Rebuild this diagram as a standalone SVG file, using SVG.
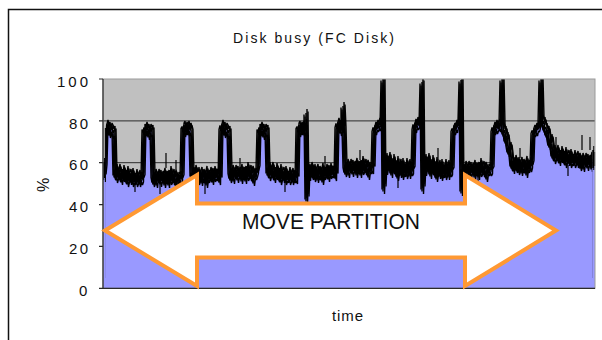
<svg xmlns="http://www.w3.org/2000/svg" xmlns:xlink="http://www.w3.org/1999/xlink" width="602" height="340" viewBox="0 0 602 340">
  <style>
    .lbl { font-family: "Liberation Sans", Arial, sans-serif; fill: #111; }
    .tick { font-size: 15px; }
    .grid { stroke: #2a2a2a; stroke-width: 1; }
    .axis { stroke: #2a2a2a; stroke-width: 1.2; fill: none; }
    .trace { fill: none; stroke: #000; stroke-width: 1.4; stroke-linejoin: bevel; }
  </style>
  <defs>
    <!-- disk busy series, 1 sample per pixel -->
    <path id="series" d="M103,288.3 L103,168 l1,8 1,-10 L106,128 l1,-4 1,5 1,-3 1,6 1,-5 1,2 1,4 1,-3 L115,174 l1,-6 1,9 1,-4 1,-5 1,8 1,-3 1,6 1,-10 1,7 1,-2 1,4 1,-8 1,11 1,-5 1,-3 1,6 1,-7 1,9 1,-4 1,2 1,-6 1,8 1,-3 1,-4 1,7 1,-5 1,3 1,-3
      L144,128 l1,3 1,-5 1,4 1,-2 1,6 1,-6 1,3 1,-2 L153,176 l1,5 1,-8 1,3 1,6 1,-9 1,4 1,-3 1,7 1,-6 1,2 1,-5 1,10 1,-7 1,3 1,-4 1,8 1,-12 1,9 1,-2 1,-4 1,6 1,-5 1,3 1,7 1,-8 1,2 1,-3 1,4 1,-3
      L183,127 l1,-2 1,6 1,-5 1,3 1,-4 1,5 1,-3 1,4 L192,175 l1,-4 1,7 1,-9 1,5 1,3 1,-6 1,8 1,-5 1,-3 1,9 1,-7 1,4 1,-2 1,-5 1,12 1,-8 1,3 1,-6 1,5 1,-4 1,7 1,-9 1,6 1,-3 1,2 1,-5 1,4 1,5
      L221,128 l1,-4 1,5 1,-3 1,6 1,-5 1,2 1,4 1,-3 L230,172 l1,5 1,-8 1,3 1,6 1,-9 1,4 1,-3 1,7 1,-6 1,2 1,-5 1,10 1,-7 1,3 1,-4 1,8 1,-12 1,9 1,-2 1,-4 1,6 1,-5 1,3 1,7 1,-8 1,2 1,-3 1,-4
      L259,128 l1,3 1,-5 1,4 1,-2 1,6 1,-6 1,3 1,-2 L268,172 l1,-6 1,9 1,-4 1,-5 1,8 1,-3 1,6 1,-10 1,7 1,-2 1,4 1,-8 1,11 1,-5 1,-3 1,6 1,-7 1,9 1,-4 1,2 1,-6 1,8 1,-3 1,-4 1,7 1,-5 1,3 1,-2 1,3
      L298,127 l1,-2 1,6 1,-5 1,3 1,-4 1,5 1,-3 1,4 L306,113 L307,198 L308,172 l1,-4 1,7 1,-9 1,5 1,3 1,-6 1,8 1,-5 1,-3 1,9 1,-7 1,4 1,-2 1,-5 1,12 1,-8 1,3 1,-6 1,5 1,-4 1,7 1,-9 1,6 1,-3 1,2 1,-5 1,4 1,4
      L337,126 l1,-4 1,5 1,-3 1,6 1,-5 1,2 L343,106 L344,128 L345,166 l1,5 1,-8 1,3 1,6 1,-9 1,4 1,-3 1,7 1,-6 1,2 1,-5 1,10 1,-7 1,3 1,-4 1,8 1,-12 1,9 1,-2 1,-4 1,6 1,-5 1,3 1,7 1,-8 1,2 1,-3 1,3
      L374,130 l1,-4 1,3 1,-5 1,2 1,-4 1,3 1,-3 1,2 L383,79 L384,188 L385,165 l1,-8 1,12 1,-6 1,-7 1,11 1,-4 1,9 1,-14 1,10 1,-3 1,6 1,-11 1,15 1,-7 1,-5 1,9 1,-10 1,12 1,-6 1,3 1,-9 1,11 1,-4 1,-6 1,10 1,-7 1,4 1,-2
      L414,128 l1,-5 1,4 1,-6 1,3 1,-2 1,-4 1,5 L422,82 L423,188 L424,166 l1,-8 1,12 1,-6 1,-7 1,11 1,-4 1,9 1,-14 1,10 1,-3 1,6 1,-11 1,15 1,-7 1,-5 1,9 1,-10 1,12 1,-6 1,3 1,-9 1,11 1,-4 1,-6 1,10 1,-7 1,4 1,-2
      L453,130 l1,-3 1,2 1,-5 1,3 1,-6 1,2 1,-4 L461,80 L462,190 L463,168 l1,5 1,-8 1,3 1,6 1,-9 1,4 1,-3 1,7 1,-6 1,2 1,-5 1,10 1,-7 1,3 1,-4 1,8 1,-12 1,9 1,-2 1,-4 1,6 1,-5 1,3 1,7 1,-8 1,2 1,-3 1,3 1,-2
      L493,130 l1,-4 1,3 1,-5 1,4 1,-3 1,-2 1,3 1,-4 L502,79 L503,125 l1,8 1,-3 1,10 1,-4 1,9 1,6 1,-5 1,8 L512,165 l1,-4 1,7 1,-9 1,5 1,3 1,-6 1,8 1,-5 1,-3 1,9 1,-7 1,4 1,-2 1,-5 1,12 1,-8 1,3 1,-6 1,5 1,-4
      L533,132 l1,-3 1,2 1,-4 1,3 1,-5 1,1 1,-4 L541,79 L542,118 l1,6 1,-3 1,8 1,-2 1,7 1,-4 1,9 1,5 1,-6 1,7 L553,155 l1,-6 1,9 1,-4 1,-5 1,8 1,-3 1,6 1,-10 1,7 1,-2 1,4 1,-8 1,11 1,-5 1,-3 1,6 1,-7 1,9 1,-4 1,2 1,-6 1,8 1,-3 1,-4 1,7 1,-5 1,3 1,5 1,-8 1,3 1,6 1,-9 1,4 1,-3 1,7 1,-6 1,2 1,-5 1,10 1,-7 1,3 1,-4
      V288.3 Z"/>
    <!-- keeps the trace strokes off the plot edges and the closing segment -->
    <clipPath id="traceClip">
      <rect x="105.9" y="79" width="486.3" height="199"/>
    </clipPath>
  </defs>

  <rect x="0" y="0" width="602" height="340" fill="#ffffff"/>

  <!-- chart frame -->
  <path d="M8.5,340 V9.5 H602" fill="none" stroke="#111" stroke-width="1.5"/>

  <!-- plot area -->
  <g id="plot">
    <rect x="103" y="79" width="492" height="209.3" fill="#c0c0c0"/>
    <g class="grid">
      <line x1="103" y1="120.9" x2="595" y2="120.9"/>
      <line x1="103" y1="162.7" x2="595" y2="162.7"/>
      <line x1="103" y1="204.6" x2="595" y2="204.6"/>
      <line x1="103" y1="246.4" x2="595" y2="246.4"/>
    </g>
    <use xlink:href="#series" fill="#9999ff" stroke="none"/>
    <!-- dense trace: the series stroked at small offsets to give the noisy band -->
    <g clip-path="url(#traceClip)" class="trace">
      <use xlink:href="#series" transform="translate(1,-4)"/>
      <use xlink:href="#series" transform="translate(2,-1.5)"/>
      <use xlink:href="#series"/>
      <use xlink:href="#series" transform="translate(-2,1.5)"/>
      <use xlink:href="#series" transform="translate(-1,3.5)"/>
      <use xlink:href="#series" transform="translate(0.5,6)"/>
      <!-- isolated spikes -->
      <path d="M135,176 V192 M160,172 V194 M166,168 V153 M176,170 V160 M205,175 V194 M240,168 V158 M285,170 V192 M325,168 V156 M360,160 V150 M398,165 V188 M438,160 V148 M478,170 V188 M520,158 V148 M556,150 V137 M568,165 V176 M582,150 V135 M590,150 V137" stroke-width="1.2"/>
    </g>
    <!-- trace ends at the plot edges -->
    <path d="M103.6,162 V180 M104.6,158 V178 M105.4,128 V182 M592.8,150 V168 M593.8,146 V170 M594.6,152 V166" stroke="#000" stroke-width="1.1"/>
    <rect x="103" y="79" width="492" height="209.3" fill="none" stroke="#9a9a9a" stroke-width="1"/>
    <path class="axis" d="M103,79 V288.3 H595"/>
    <path class="axis" d="M99,79 H103 M99,120.9 H103 M99,162.7 H103 M99,204.6 H103 M99,246.4 H103 M99,288.3 H103"/>
  </g>

  <!-- axis labels -->
  <g id="y-axis-labels" class="lbl tick">
    <text x="57" y="86.5" textLength="31" lengthAdjust="spacing">100</text>
    <text x="69" y="128.5" textLength="19" lengthAdjust="spacing">80</text>
    <text x="69" y="170.3" textLength="19" lengthAdjust="spacing">60</text>
    <text x="69" y="212.2" textLength="19" lengthAdjust="spacing">40</text>
    <text x="69" y="254" textLength="19" lengthAdjust="spacing">20</text>
    <text x="79" y="295.8">0</text>
  </g>
  <text id="y-title" class="lbl" font-size="16" text-anchor="middle" transform="translate(48.5,185) rotate(-90)">%</text>
  <text id="chart-title" class="lbl" font-size="14" x="233" y="42.7" textLength="161" lengthAdjust="spacing">Disk busy (FC Disk)</text>
  <text id="x-title" class="lbl" font-size="15" x="332" y="321" textLength="31" lengthAdjust="spacing">time</text>

  <!-- double-headed arrow -->
  <g id="move-arrow">
    <polygon points="105,230.5 197,175 197,203.5 465,203.5 465,175 556,230.5 465,286 465,257.5 197,257.5 197,286" fill="#ffffff" stroke="#ff9933" stroke-width="4" stroke-linejoin="miter"/>
    <text class="lbl" font-size="21.5" x="242" y="229.3" textLength="178" lengthAdjust="spacingAndGlyphs">MOVE PARTITION</text>
  </g>
</svg>
